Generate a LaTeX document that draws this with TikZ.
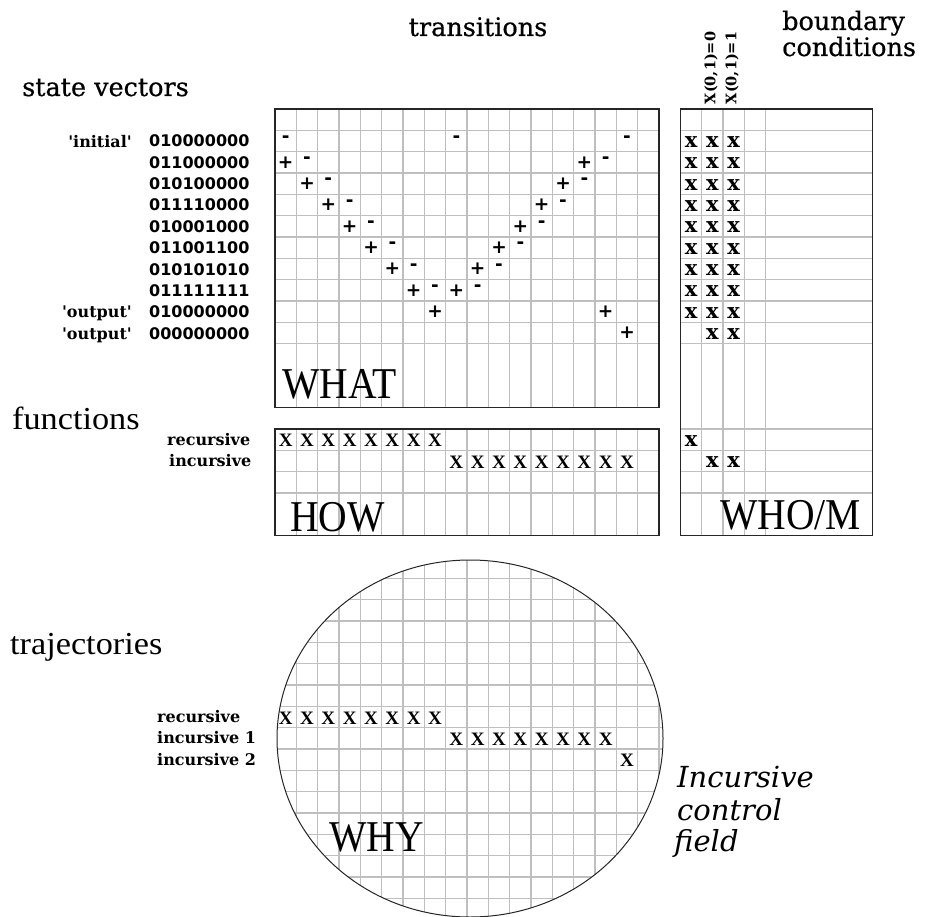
\documentclass[tikz,border=0pt]{standalone}
\usepackage{fontspec}
\setmainfont{Liberation Serif}
\newfontfamily\bigfont[FakeStretch=0.9]{Liberation Serif}
\newfontfamily\headfont[FakeBold=0.6]{DejaVu Serif}
\newfontfamily\wordfont[FakeStretch=1.07]{Liberation Serif}
\newfontfamily\slabfont{DejaVu Serif}
\newfontfamily\digfont{DejaVu Sans}
\newfontfamily\signfont{DejaVu Sans}
\tikzset{
  gridl/.style={draw=gray!50, line width=1.3pt},
  boxl/.style={draw=black!85, line width=1.6pt},
  lbl/.style={inner sep=0pt, font=\headfont\fontsize{25.5}{30}\selectfont},
  wlbl/.style={inner sep=0pt, font=\wordfont\fontsize{32}{36}\selectfont},
  big/.style={inner sep=0pt, anchor=base west, font=\bigfont\fontsize{44}{48}\selectfont},
  sgn/.style={inner sep=0pt, font=\signfont\bfseries\fontsize{18.5}{18.5}\selectfont},
  xm/.style={inner sep=0pt, yshift=-1pt, font=\slabfont\bfseries\fontsize{21}{21}\selectfont},
  xt/.style={inner sep=0pt, yshift=-1pt, font=\bfseries\fontsize{19}{19}\selectfont},
  rowlbl/.style={inner sep=0pt, font=\slabfont\bfseries\fontsize{16}{16}\selectfont},
  digs/.style={inner sep=0pt, anchor=base west, font=\digfont\bfseries\fontsize{16}{16}\selectfont},
  rotl/.style={inner sep=0pt, rotate=90, font=\slabfont\bfseries\fontsize{14.5}{16}\selectfont},
  itl/.style={inner sep=0pt, anchor=base west, font=\slabfont\itshape\fontsize{29}{32}\selectfont},
}
\begin{document}
\begin{tikzpicture}[x=1pt,y=-1pt]
\useasboundingbox (0,0) rectangle (936,917);

% ---------- grids ----------
\begin{scope}[shift={(275pt,-109pt)}, x=21.3333pt, y=-21.3333pt]
  % WHAT
  \foreach \k in {1,...,17} \draw[gridl] (\k,0) -- (\k,14);
  \foreach \r in {1,...,11} \draw[gridl] (0,\r) -- (18,\r);
  \draw[boxl] (0,0) rectangle (18,14);
  % HOW
  \foreach \k in {1,...,17} \draw[gridl] (\k,15) -- (\k,20);
  \foreach \r in {16,17,18} \draw[gridl] (0,\r) -- (18,\r);
  \draw[boxl] (0,15) rectangle (18,20);
  % WHO/M
  \foreach \k in {20,...,23} \draw[gridl] (\k,0) -- (\k,20);
  \foreach \r in {1,...,11,15,16,17,18} \draw[gridl] (19,\r) -- (28,\r);
  \draw[boxl] (19,0) rectangle (28,20);

  % transitions: minus and plus signs
  \foreach \r/\c [count=\n] in {1/0,1/8,1/16,2/1,2/15,3/2,3/14,4/3,4/13,5/4,5/12,6/5,6/11,7/6,7/10,8/7,8/9}
    \node[sgn, yshift=2pt] (mi\n) at (\c+0.5,\r+0.5) {-};
  \foreach \r/\c [count=\n] in {2/0,2/14,3/1,3/13,4/2,4/12,5/3,5/11,6/4,6/10,7/5,7/9,8/6,8/8,9/7,9/15,10/16}
    \node[sgn] (pl\n) at (\c+0.5,\r+0.5) {+};

  % boundary conditions marks
  \foreach \r in {1,...,9} \foreach \c in {19,20,21}
    \node[xm] (w\r-\c) at (\c+0.5,\r+0.5) {x};
  \foreach \c in {20,21} \node[xm] (w10-\c) at (\c+0.5,10.5) {x};
  \node[xm] (w15-19) at (19.5,15.5) {x};
  \foreach \c in {20,21} \node[xm] (w16-\c) at (\c+0.5,16.5) {x};

  % functions marks
  \foreach \c in {0,...,7} \node[xt] (hr\c) at (\c+0.5,15.5) {X};
  \foreach \c in {8,...,16} \node[xt] (hi\c) at (\c+0.5,16.5) {X};
\end{scope}

% ---------- WHY ellipse ----------
\begin{scope}
  \clip (470,738.5) ellipse [x radius=193pt, y radius=178.5pt];
  \foreach \k in {0,...,18} \draw[gridl] ({275+21.3333*\k},550) -- ({275+21.3333*\k},925);
  \foreach \r in {21,...,38} \draw[gridl] (260,{109+21.3333*\r}) -- (680,{109+21.3333*\r});
\end{scope}
\draw[line width=1pt, black!85] (470,738.5) ellipse [x radius=193pt, y radius=178.5pt];

\begin{scope}[shift={(275pt,-109pt)}, x=21.3333pt, y=-21.3333pt]
  \foreach \c in {0,...,7} \node[xt] (tr\c) at (\c+0.5,28.5) {X};
  \foreach \c in {8,...,15} \node[xt] (ti\c) at (\c+0.5,29.5) {X};
  \node[xt] (tj16) at (16.5,30.5) {X};
\end{scope}

% ---------- headings ----------
\node[lbl, anchor=base] (trans) at (478,36) {transitions};
\node[lbl, anchor=base west] (bc1) at (782,30) {boundary};
\node[lbl, anchor=base west] (bc2) at (782,56) {conditions};
\node[lbl, anchor=base west] (sv) at (22,96) {state vectors};
\node[wlbl, anchor=base west] (fn) at (12,429) {functions};
\node[wlbl, anchor=base west] (trj) at (10,654) {trajectories};

\node[rotl] (x0) at (711,68) {X(0,1)=0};
\node[rotl] (x1) at (732,68) {X(0,1)=1};

% ---------- state vectors ----------
\foreach \v [count=\i] in {010000000,011000000,010100000,011110000,010001000,011001100,010101010,011111111,010000000,000000000}
  \node[digs] (v\i) at (149,{109+(\i+0.5)*21.3333+6}) {\v};
\node[rowlbl, anchor=base east] (ini) at (132,147.2) {'initial'};
\node[rowlbl, anchor=base east] (out1) at (132,317.7) {'output'};
\node[rowlbl, anchor=base east] (out2) at (132,339) {'output'};

% ---------- function / trajectory labels ----------
\node[rowlbl, anchor=base west] (frec) at (167,445) {recursive};
\node[rowlbl, anchor=base west] (finc) at (169,466.5) {incursive};
\node[rowlbl, anchor=base west] (trec) at (157,722.5) {recursive};
\node[rowlbl, anchor=base west] (tinc1) at (157,743.8) {incursive 1};
\node[rowlbl, anchor=base west] (tinc2) at (157,765.2) {incursive 2};

% ---------- big words ----------
\node[big] (what) at (282,398) {WHAT};
\node[big] (how) at (290,531) {HOW};
\node[big] (whom) at (720,529) {WHO/M};
\node[big] (why) at (329,851) {WHY};

\node[itl] (icf1) at (677,787) {Incursive};
\node[itl] (icf2) at (677,820) {control};
\node[itl] (icf3) at (674,851) {field};
\end{tikzpicture}
\end{document}
